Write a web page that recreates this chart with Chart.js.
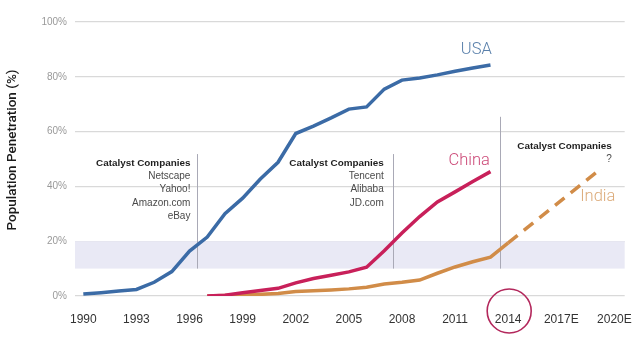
<!DOCTYPE html>
<html>
<head>
<meta charset="utf-8">
<script src="https://cdn.jsdelivr.net/npm/chart.js@4/dist/chart.umd.min.js"></script>
<style>
  html, body { margin: 0; padding: 0; background: #fff; }
  #wrap { width: 640px; height: 340px; }
</style>
</head>
<body>
<div id="wrap"><canvas id="penetration"></canvas></div>
<script>
// Internet users as % of population
const years = [1990, 1991, 1992, 1993, 1994, 1995, 1996, 1997, 1998, 1999, 2000, 2001, 2002,
               2003, 2004, 2005, 2006, 2007, 2008, 2009, 2010, 2011, 2012, 2013, 2014];
const usa   = [0.7, 1.2, 1.8, 2.4, 5.0, 8.9, 16.4, 21.5, 30.0, 35.7, 42.7, 48.8, 59.3,
               62.0, 65.0, 68.2, 69.0, 75.5, 78.8, 79.6, 80.7, 82.0, 83.2, 84.3, null];
const china = [null, null, null, null, null, null, null, 0.0, 0.3, 1.2, 2.0, 2.8, 4.8,
               6.4, 7.6, 8.8, 10.5, 16.5, 23.0, 29.0, 34.3, 38.0, 41.8, 45.4, null];
const india = [null, null, null, null, null, null, null, 0.0, 0.2, 0.4, 0.6, 0.9, 1.6,
               1.9, 2.2, 2.6, 3.2, 4.4, 5.0, 5.8, 8.3, 10.6, 12.5, 14.2, 19.4];

// India forecast (dashed)
const forecastYears = [2014, 2019];
const indiaForecast = [19.4, 45.2];

const tickYears  = [1990, 1993, 1996, 1999, 2002, 2005, 2008, 2011, 2014, 2017, 2020];
const tickLabels = ['1990', '1993', '1996', '1999', '2002', '2005', '2008', '2011', '2014', '2017E', '2020E'];

// Catalyst company notes
const wave1 = ['Netscape', 'Yahoo!', 'Amazon.com', 'eBay'];
const wave2 = ['Tencent', 'Alibaba', 'JD.com'];
const wave3 = ['?'];

const BLUE = '#3b6ba6';
const RED = '#c8205a';
const TAN = '#d18c48';

function pts(xs, ys) {
    return xs.map((x, i) => ({ x: x, y: ys[i] }));
}

Chart.defaults.font.family = '"Liberation Sans", Arial, sans-serif';

// shaded 10-20% band, section dividers, notes and the 2014 ring
const decorations = {
    id: 'decorations',
    beforeDatasetsDraw(chart) {
        const { ctx, chartArea: a, scales: { x, y } } = chart;
        ctx.save();
        ctx.fillStyle = '#e9e9f5';
        ctx.fillRect(a.left, y.getPixelForValue(20), a.right - a.left,
                     y.getPixelForValue(10) - y.getPixelForValue(20));

        ctx.strokeStyle = '#a9a9b6';
        ctx.lineWidth = 1;
        [[1996.4, 51.8], [2007.47, 51.8], [2013.55, 65.4]].forEach(([yr, top]) => {
            const px = Math.round(x.getPixelForValue(yr)) + 0.5;
            ctx.beginPath();
            ctx.moveTo(px, y.getPixelForValue(top));
            ctx.lineTo(px, y.getPixelForValue(10));
            ctx.stroke();
        });
        ctx.restore();
    },
    afterDraw(chart) {
        const { ctx, scales: { x, y } } = chart;
        ctx.save();

        // notes
        const note = (rightYr, topPx, lines) => {
            const rx = x.getPixelForValue(rightYr);
            ctx.textAlign = 'right';
            ctx.textBaseline = 'middle';
            ctx.fillStyle = '#1e1e1e';
            ctx.font = 'bold 9.9px "Liberation Sans", Arial, sans-serif';
            ctx.fillText('Catalyst Companies', rx, topPx);
            ctx.fillStyle = '#4a4a4a';
            ctx.font = '10px "Liberation Sans", Arial, sans-serif';
            lines.forEach((t, i) => ctx.fillText(t, rx, topPx + 13.3 * (i + 1)));
        };
        note(1996.05, 163, wave1);
        note(2006.97, 163, wave2);
        note(2019.85, 146, wave3);

        // series names
        ctx.textAlign = 'center';
        ctx.textBaseline = 'middle';
        ctx.font = '300 16.5px Roboto, "Liberation Sans", sans-serif';
        ctx.fillStyle = '#5a80ab';
        ctx.fillText('USA', x.getPixelForValue(2012.2), y.getPixelForValue(89.8));
        ctx.fillStyle = '#cc4a78';
        ctx.fillText('China', x.getPixelForValue(2011.8), y.getPixelForValue(49.3));
        ctx.fillStyle = '#dcab7a';
        ctx.fillText('India', x.getPixelForValue(2019.06), y.getPixelForValue(36));

        // y title
        ctx.save();
        ctx.translate(13, 150);
        ctx.rotate(-Math.PI / 2);
        ctx.fillStyle = '#1a1a1a';
        ctx.font = '500 13.5px Roboto, "Liberation Sans", Arial, sans-serif';
        ctx.fillText('Population Penetration (%)', 0, 0);
        ctx.restore();

        // ring round 2014
        ctx.strokeStyle = '#b3285c';
        ctx.lineWidth = 1.6;
        ctx.beginPath();
        ctx.arc(x.getPixelForValue(2014) + 1, 311, 22, 0, Math.PI * 2);
        ctx.stroke();
        ctx.restore();
    }
};

new Chart(document.getElementById('penetration'), {
    type: 'line',
    data: {
        datasets: [
            { label: 'USA', data: pts(years, usa), borderColor: BLUE },
            { label: 'China', data: pts(years, china), borderColor: RED },
            { label: 'India', data: pts(years, india), borderColor: TAN },
            { label: 'India forecast', data: pts(forecastYears, indiaForecast), borderColor: TAN,
              borderDash: [12, 8] }
        ]
    },
    options: {
        responsive: true,
        maintainAspectRatio: false,
        animation: false,
        layout: { padding: { top: 22, right: 13, left: 0, bottom: 0 } },
        elements: {
            line: { borderWidth: 3.5, tension: 0, fill: false, borderCapStyle: 'butt' },
            point: { radius: 0 }
        },
        plugins: {
            legend: { display: false },
            tooltip: { enabled: false }
        },
        scales: {
            x: {
                type: 'linear',
                min: 1989.53,
                max: 2020.58,
                afterFit(scale) { scale.height = 44; },
                afterBuildTicks(scale) { scale.ticks = tickYears.map(v => ({ value: v })); },
                grid: { display: false },
                border: { display: false },
                ticks: {
                    padding: 8,
                    color: '#333',
                    font: { size: 12 },
                    maxRotation: 0,
                    autoSkip: false,
                    callback: (v, i) => tickLabels[i]
                }
            },
            y: {
                min: 0,
                max: 100,
                afterFit(scale) { scale.width = 75; },
                grid: { color: '#d9d9d9', lineWidth: 1.2, drawTicks: false },
                border: { display: false },
                ticks: {
                    stepSize: 20,
                    padding: 8,
                    color: '#999',
                    font: { size: 10 },
                    callback: v => v + '%'
                }
            }
        }
    },
    plugins: [decorations]
});
</script>
</body>
</html>
